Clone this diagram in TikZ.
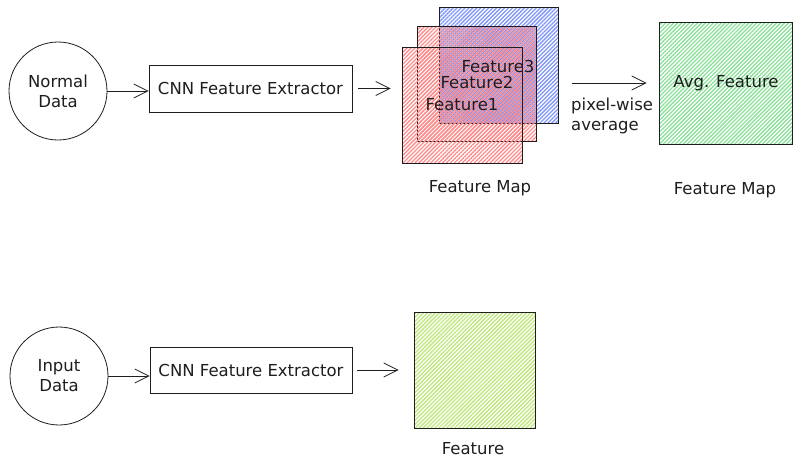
\documentclass[tikz,border=0pt]{standalone}
\usepackage{fontspec}
\setmainfont{DejaVu Sans}
\usetikzlibrary{arrows.meta,patterns.meta}
\definecolor{ink}{HTML}{1E1E1E}
\definecolor{hred}{HTML}{FF8C8C}
\definecolor{hblue}{HTML}{7F95FA}
\definecolor{hgreen}{HTML}{8CE09A}
\definecolor{hlime}{HTML}{BDE77A}
\tikzset{
  lbl/.style={text=ink,font=\fontsize{16.5}{20}\selectfont,align=center,inner sep=0pt},
  datacircle/.style={draw=ink,line width=0.8pt,circle,minimum size=98pt,inner sep=0pt,lbl},
  procbox/.style={draw=ink,line width=0.8pt,rectangle,inner sep=0pt,lbl},
  arr/.style={draw=ink,line width=0.8pt,-{Straight Barb[length=14pt,width=14pt,line width=0.8pt]}},
  hatch/.style={pattern={Lines[angle=45,distance=2.8pt,line width=1.3pt]},pattern color=#1},
  hatchb/.style={pattern={Lines[angle=45,distance=2.8pt,line width=1.3pt,xshift=2pt]},pattern color=#1},
  mapbox/.style={draw=ink,line width=0.8pt,rectangle,inner sep=0pt}
}
\begin{document}
\begin{tikzpicture}[x=1pt,y=-1pt]
\useasboundingbox[fill=white] (0,0) rectangle (800,467);
% top row
\node[datacircle] (nd) at (58,91) {Normal\\Data};
\node[procbox,minimum width=203pt,minimum height=47pt] (cnn1) at (250.5,88.5) {CNN Feature Extractor};
\draw[arr] (nd.east) -- (nd.east -| cnn1.west);
% feature maps
\node[mapbox,hatchb=hblue,minimum width=119pt,minimum height=116pt] (f3) at (498.5,65) {};
\node[mapbox,hatch=hred,minimum width=119pt,minimum height=115pt] (f2) at (476.5,83.5) {};
\node[mapbox,hatch=hred,minimum width=120pt,minimum height=116pt] (f1) at (462,105) {};
\node[lbl] (t3) at (498,66) {Feature3};
\node[lbl] (t2) at (477,82) {Feature2};
\node[lbl] (t1) at (462,105) {Feature1};
\node[lbl] (fm1) at (480,188) {Feature Map};
\draw[arr] ([xshift=6pt]cnn1.east) -- ([xshift=-11pt]cnn1.east -| f1.west);
% average
\node[mapbox,hatch=hgreen,minimum width=133pt,minimum height=122pt] (avg) at (725.5,83) {};
\node[lbl] (avgt) at (726,83) {Avg. Feature};
\node[lbl] (fm2) at (725,190) {Feature Map};
\draw[arr] ([xshift=13pt]f3.east |- avg.west) -- ([xshift=-12pt]avg.west);
\node[lbl,align=left,anchor=west] (pw) at (571,115.5) {pixel-wise\\average};
% bottom row
\node[datacircle] (id) at (59,376) {Input\\Data};
\node[procbox,minimum width=202pt,minimum height=46pt] (cnn2) at (251,370) {CNN Feature Extractor};
\draw[arr] (id.east) -- (id.east -| cnn2.west);
\node[mapbox,hatch=hlime,minimum width=121pt,minimum height=116pt] (feat) at (474.5,370) {};
\node[lbl] (ft) at (473,449) {Feature};
\draw[arr] ([xshift=5pt]cnn2.east) -- ([xshift=-15pt]feat.west);
\end{tikzpicture}
\end{document}
